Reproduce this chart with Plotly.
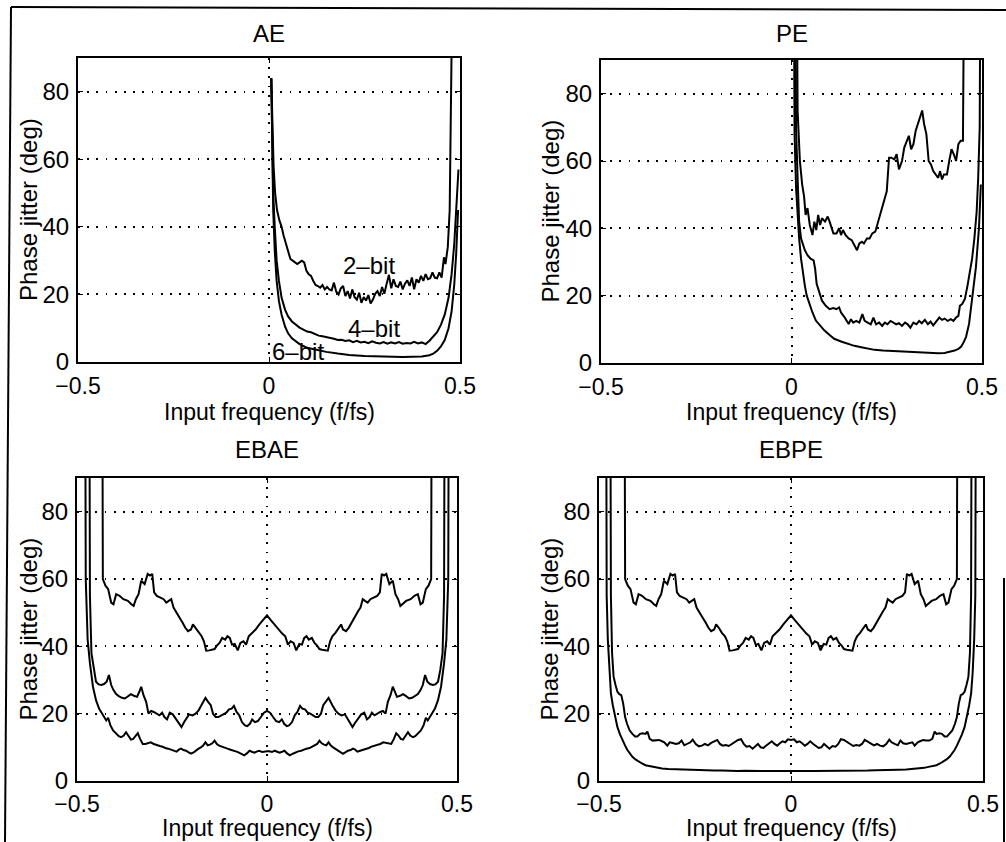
import plotly.graph_objects as go

W, H = 1006, 842
FONT = "Liberation Sans, Arial, Helvetica, sans-serif"

# ---------------- AE (positive frequencies only) ----------------
AE_2BIT_X = [0.006, 0.009, 0.012, 0.016, 0.021, 0.027, 0.033, 0.038, 0.044, 0.050,
             0.056, 0.062, 0.068, 0.074, 0.080, 0.086, 0.092, 0.098, 0.104, 0.110,
             0.116, 0.122, 0.128, 0.134, 0.140, 0.146, 0.152, 0.158, 0.164, 0.170,
             0.176, 0.182, 0.188, 0.194, 0.200, 0.206, 0.212, 0.218, 0.224, 0.230,
             0.236, 0.242, 0.248, 0.254, 0.260, 0.266, 0.272, 0.278, 0.284, 0.290,
             0.296, 0.302, 0.308, 0.314, 0.320, 0.326, 0.332, 0.338, 0.344, 0.350,
             0.356, 0.362, 0.368, 0.374, 0.380, 0.386, 0.392, 0.398, 0.404, 0.410,
             0.416, 0.422, 0.428, 0.434, 0.440, 0.446, 0.452, 0.458, 0.462, 0.468,
             0.473, 0.477, 0.481, 0.484]
AE_2BIT_Y = [84, 68, 58, 50, 45, 42, 40, 37.5, 35, 32.5,
             30.5, 30, 29.5, 29, 29.5, 30, 29.5, 27, 26, 25.5,
             24, 22.8, 22.5, 22, 22.8, 21.5, 22.2, 21.5, 21.2, 23.5,
             20.8, 20, 21.8, 22.5, 19.5, 21, 18.8, 21.5, 19.2, 18.5,
             20.5, 17.5, 19.2, 18.2, 19.8, 17.3, 18.5, 20.2, 21, 19.5,
             22.2, 20.2, 23.2, 25.8, 21.8, 24.5, 22.5, 22.2, 23.8, 21.5,
             23.2, 24.2, 22.5, 25, 21.5, 24.5, 23.5, 25.5, 24, 26,
             24.5, 24.8, 26.5, 25, 24.8, 26.5, 25, 31, 29, 34,
             45, 62, 80, 150]

AE_4BIT_X = [0.006, 0.008, 0.011, 0.015, 0.020, 0.026, 0.033, 0.042, 0.050, 0.060,
             0.070, 0.080, 0.090, 0.100, 0.110, 0.120, 0.130, 0.140, 0.150, 0.160,
             0.170, 0.180, 0.190, 0.200, 0.210, 0.220, 0.230, 0.240, 0.250, 0.260,
             0.270, 0.280, 0.290, 0.300, 0.310, 0.320, 0.330, 0.340, 0.350, 0.360,
             0.370, 0.380, 0.390, 0.400, 0.410, 0.420, 0.430, 0.440, 0.450, 0.460,
             0.470, 0.478, 0.485, 0.490, 0.496]
AE_4BIT_Y = [84, 65, 50, 40, 30, 24, 19, 15.5, 13.5, 12,
             11, 10.2, 9.6, 9, 8.8, 8.3, 7.8, 7.6, 7.4, 7.0,
             6.9, 6.5, 6.6, 6.2, 6.4, 5.9, 6.3, 5.8, 6.0, 5.6,
             6.1, 5.7, 5.5, 5.9, 5.4, 5.8, 5.5, 5.9, 5.4, 5.6,
             5.5, 6.0, 5.5, 5.8, 5.3, 6.3, 7.5, 8.8, 11, 14,
             19, 26, 35, 45, 57]

AE_6BIT_X = [0.006, 0.008, 0.011, 0.015, 0.020, 0.026, 0.033, 0.042, 0.050, 0.060,
             0.070, 0.080, 0.100, 0.125, 0.150, 0.180, 0.210, 0.250, 0.300, 0.350,
             0.400, 0.420, 0.430, 0.440, 0.450, 0.460, 0.470, 0.478, 0.485, 0.490,
             0.495]
AE_6BIT_Y = [84, 62, 45, 33, 24, 18, 14, 10.5, 8.5, 7,
             6, 5.3, 4.2, 3.5, 3, 2.5, 2.1, 1.8, 1.6, 1.5,
             1.6, 2, 2.5, 3.3, 4.6, 6.5, 10, 15, 23, 32,
             45]

# ---------------- PE (positive frequencies only) ----------------
PE_2BIT_X = [0.012, 0.016, 0.022, 0.028, 0.033, 0.037, 0.042, 0.048, 0.055, 0.060,
             0.065, 0.070, 0.075, 0.080, 0.088, 0.095, 0.100, 0.105, 0.110, 0.118,
             0.125, 0.130, 0.135, 0.142, 0.150, 0.158, 0.165, 0.172, 0.178, 0.185,
             0.190, 0.198, 0.205, 0.212, 0.220, 0.228, 0.235, 0.242, 0.250, 0.256,
             0.262, 0.270, 0.276, 0.282, 0.290, 0.296, 0.302, 0.308, 0.314, 0.320,
             0.326, 0.332, 0.338, 0.343, 0.348, 0.354, 0.360, 0.366, 0.372, 0.378,
             0.385, 0.390, 0.395, 0.400, 0.408, 0.414, 0.420, 0.426, 0.432, 0.438,
             0.444, 0.450, 0.455]
PE_2BIT_Y = [150, 75, 60, 53, 49.5, 44, 46, 41, 38, 42,
             39.5, 44, 41, 43, 42, 43.5, 42, 40, 38.5, 38.5,
             40, 38, 39.5, 38, 37, 36.5, 35, 33.5, 35.5, 36,
             35.5, 37, 37, 38.5, 39, 42, 45, 48, 51, 61,
             61, 60.5, 62, 57.5, 60, 64, 66, 67.5, 63.5, 65,
             69, 71, 73, 75, 71, 68, 60, 59, 57, 56,
             55, 57, 54.5, 56, 56, 60, 63.5, 62, 60, 65,
             66, 66, 150]

PE_4BIT_X = [0.008, 0.012, 0.016, 0.020, 0.025, 0.030, 0.035, 0.042, 0.050, 0.058,
             0.062, 0.066, 0.072, 0.080, 0.090, 0.100, 0.110, 0.118, 0.125, 0.130,
             0.138, 0.145, 0.150, 0.156, 0.162, 0.170, 0.178, 0.186, 0.192, 0.200,
             0.208, 0.215, 0.222, 0.230, 0.238, 0.245, 0.252, 0.260, 0.268, 0.275,
             0.282, 0.290, 0.298, 0.305, 0.312, 0.320, 0.328, 0.335, 0.342, 0.350,
             0.358, 0.365, 0.372, 0.380, 0.388, 0.395, 0.402, 0.410, 0.418, 0.425,
             0.432, 0.438, 0.442, 0.448, 0.455, 0.462, 0.468, 0.474, 0.480, 0.486,
             0.490, 0.494, 0.497]
PE_4BIT_Y = [150, 70, 55, 42, 37, 35, 33.5, 32, 31, 30.5,
             28, 23.5, 21, 18.5, 17, 16, 16.3, 16, 16.5, 15,
             13.8, 12.5, 11.6, 13, 12, 12.5, 12, 14.5, 12.5, 12,
             11.5, 13.5, 11.5, 12, 11, 12, 11.5, 12.5, 12, 11.5,
             11.8, 11, 12, 11.5, 10.5, 12, 11.5, 12.5, 11.8, 12.8,
             11.5, 12.3, 11.2, 12.5, 13.5, 12.8, 13.2, 12.5, 13, 12.5,
             13.5, 14, 17, 17.5, 19, 23, 27, 31, 37, 45,
             55, 70, 150]

PE_6BIT_X = [0.005, 0.008, 0.012, 0.016, 0.020, 0.025, 0.030, 0.035, 0.040, 0.047,
             0.055, 0.064, 0.075, 0.086, 0.100, 0.112, 0.130, 0.148, 0.165, 0.183,
             0.200, 0.218, 0.240, 0.270, 0.300, 0.332, 0.350, 0.367, 0.385, 0.402,
             0.415, 0.428, 0.438, 0.445, 0.452, 0.458, 0.466, 0.475, 0.484, 0.492,
             0.497]
PE_6BIT_Y = [150, 68, 52, 43, 37, 31, 26.5, 23, 20, 17.5,
             15, 12.6, 11, 9.7, 8.3, 7.2, 6.4, 5.7, 5.1, 4.7,
             4.3, 3.9, 3.7, 3.5, 3.3, 3.2, 3.0, 2.8, 2.9, 3.0,
             3.3, 3.7, 4.2, 4.8, 6.2, 7.7, 11.6, 19.5, 28.4, 40,
             53]

# ------- EBAE / EBPE: negative half, the sweep is even in frequency -------
EB_2BIT_X = [-0.434, -0.432, -0.425, -0.418, -0.410, -0.404, -0.397, -0.388, -0.378, -0.366,
             -0.357, -0.351, -0.345, -0.338, -0.331, -0.322, -0.314, -0.308, -0.302, -0.297,
             -0.290, -0.280, -0.272, -0.265, -0.258, -0.252, -0.246, -0.240, -0.230, -0.222,
             -0.215, -0.208, -0.200, -0.195, -0.188, -0.180, -0.172, -0.166, -0.160, -0.152,
             -0.145, -0.138, -0.132, -0.125, -0.118, -0.110, -0.104, -0.098, -0.092, -0.085,
             -0.077, -0.070, -0.062, -0.055, -0.048, -0.040, -0.030, -0.020, -0.010, 0.0]
EB_2BIT_Y = [150, 60, 58, 57, 53, 52.5, 55.5, 55, 54, 53.5,
             52.5, 52, 54, 55.5, 59.5, 58.5, 61.5, 61, 61.5, 56,
             55, 54.5, 54, 53, 53.5, 54, 51.5, 50.5, 48.5, 47,
             45.5, 44.5, 45, 46.5, 45.5, 44, 43, 41.5, 38.7, 38.8,
             39, 39.2, 40.2, 41, 42.5, 42, 43, 42.5, 40.5, 40.7,
             38.8, 41, 41.5, 40.5, 43, 43.8, 45, 46.5, 47.8, 49.2]

EBAE_4BIT_X = [-0.468, -0.466, -0.462, -0.456, -0.450, -0.443, -0.436, -0.429, -0.422, -0.416,
               -0.410, -0.404, -0.397, -0.390, -0.382, -0.374, -0.366, -0.358, -0.350, -0.342,
               -0.336, -0.331, -0.325, -0.318, -0.312, -0.305, -0.298, -0.290, -0.283, -0.276,
               -0.270, -0.263, -0.256, -0.248, -0.240, -0.232, -0.225, -0.218, -0.212, -0.205,
               -0.196, -0.188, -0.180, -0.172, -0.162, -0.155, -0.148, -0.142, -0.135, -0.128,
               -0.120, -0.114, -0.107, -0.100, -0.093, -0.087, -0.080, -0.073, -0.066, -0.058,
               -0.052, -0.045, -0.039, -0.032, -0.024, -0.016, -0.008, 0.0]
EBAE_4BIT_Y = [150, 55, 38, 33, 29.5, 28.7, 28.5, 28.8, 29.5, 31.5,
               28.5, 27, 25.8, 25.2, 24.7, 24.5, 25.2, 25.8, 25.3, 25,
               26.5, 28, 25.5, 23.5, 20, 20.8, 20.5, 20, 19.5, 20.3,
               19, 18.3, 20.3, 19.8, 18.5, 17.3, 16, 17.5, 18.5, 19.8,
               19.5, 20, 21, 22.5, 24.7, 23.5, 22.5, 20, 19, 19,
               19.5, 20, 20.3, 21.3, 21.5, 22.3, 20.5, 19.5, 17.5, 16.5,
               16.3, 17, 18.3, 17.5, 17.8, 19, 20.3, 20.8]

EBAE_6BIT_X = [-0.479, -0.477, -0.472, -0.466, -0.458, -0.450, -0.442, -0.436, -0.430, -0.423,
               -0.418, -0.412, -0.405, -0.397, -0.390, -0.384, -0.377, -0.371, -0.365, -0.358,
               -0.352, -0.346, -0.340, -0.334, -0.327, -0.320, -0.313, -0.306, -0.298, -0.290,
               -0.282, -0.275, -0.268, -0.260, -0.252, -0.245, -0.238, -0.232, -0.226, -0.220,
               -0.213, -0.206, -0.200, -0.193, -0.186, -0.180, -0.174, -0.168, -0.162, -0.156,
               -0.150, -0.144, -0.138, -0.132, -0.126, -0.120, -0.112, -0.104, -0.096, -0.090,
               -0.082, -0.075, -0.068, -0.060, -0.053, -0.046, -0.040, -0.033, -0.026, -0.020,
               -0.013, -0.006, 0.0]
EBAE_6BIT_Y = [150, 60, 42, 35, 28, 24, 21.5, 20.5, 19.2, 18,
               18.8, 16.5, 15, 14, 13.3, 13, 13.5, 14.5, 13.3, 12.3,
               12.5, 13.5, 14.2, 12.5, 11, 11, 11.3, 11.5, 11, 10.6,
               10.4, 10.2, 9.8, 9.6, 9.2, 9, 8.7, 9.3, 9.6, 9.2,
               9, 8.5, 8.1, 8.5, 9.2, 9.6, 10, 10.5, 11.5, 10.6,
               10.8, 11.2, 12, 11, 10.5, 10.2, 9.8, 9.6, 9.3, 9,
               8.8, 8.5, 8.1, 7.6, 8.2, 9, 8.7, 8.4, 8.8, 9,
               8.6, 8.8, 8.8]

EBPE_4BIT_X = [-0.471, -0.469, -0.466, -0.462, -0.457, -0.452, -0.447, -0.442, -0.437, -0.432,
               -0.427, -0.420, -0.413, -0.406, -0.400, -0.393, -0.386, -0.379, -0.374, -0.368,
               -0.360, -0.352, -0.344, -0.336, -0.330, -0.322, -0.316, -0.308, -0.300, -0.292,
               -0.285, -0.278, -0.270, -0.262, -0.256, -0.248, -0.240, -0.232, -0.224, -0.216,
               -0.208, -0.200, -0.192, -0.185, -0.178, -0.170, -0.162, -0.154, -0.146, -0.138,
               -0.130, -0.123, -0.116, -0.108, -0.100, -0.093, -0.086, -0.079, -0.072, -0.065,
               -0.058, -0.050, -0.043, -0.036, -0.029, -0.022, -0.015, -0.008, 0.0]
EBPE_4BIT_Y = [150, 55, 38, 31, 28.5, 26.5, 25.8, 25.5, 23, 19,
               17, 15, 14, 13.2, 13.2, 14, 14.2, 14, 14.7, 12.5,
               12, 12, 12.2, 11.8, 11.5, 10.5, 11.5, 11.3, 11, 11.2,
               12, 10.6, 11, 11.5, 12.3, 11, 10.3, 10.5, 11, 10.6,
               11.3, 11.7, 12.2, 11, 10.5, 10.7, 10.4, 11, 11.5, 12.2,
               12.4, 11, 10.2, 10.4, 9.6, 10.3, 11, 10, 9.8, 10.5,
               11, 11.8, 11, 10.5, 11.2, 11.8, 11.5, 12.4, 12.2]

EBPE_6BIT_X = [-0.482, -0.480, -0.477, -0.473, -0.469, -0.464, -0.460, -0.452, -0.445, -0.439,
               -0.432, -0.426, -0.420, -0.413, -0.405, -0.396, -0.388, -0.379, -0.368, -0.358,
               -0.347, -0.336, -0.320, -0.300, -0.280, -0.260, -0.240, -0.220, -0.200, -0.180,
               -0.160, -0.140, -0.120, -0.100, -0.080, -0.060, -0.040, -0.020, 0.0]
EBPE_6BIT_Y = [150, 55, 42, 32, 26, 22.5, 20, 16, 13.8, 12.1,
               10.5, 9.2, 8.2, 7.2, 6.4, 5.7, 5.2, 4.7, 4.4, 4.2,
               3.9, 3.7, 3.55, 3.45, 3.35, 3.3, 3.2, 3.2, 3.1, 3.1,
               3.0, 3.0, 3.05, 2.95, 3.0, 3.0, 2.95, 3.0, 3.0]

X_TICKS = [-0.5, 0, 0.5]
X_TICK_TEXT = ["\u22120.5", "0", "0.5"]
Y_TICKS = [0, 20, 40, 60, 80]
Y_TICK_TEXT = ["0", "20", "40", "60", "80"]
TITLES = ["AE", "PE", "EBAE", "EBPE"]
X_LABEL = "Input frequency (f/fs)"
Y_LABEL = "Phase jitter (deg)"
BIT_LABELS = ["2\u2013bit", "4\u2013bit", "6\u2013bit"]
BIT_LABEL_POS = [(0.19, 28.6), (0.205, 10.0), (0.005, 3.2)]


def both_sides(xs, ys):
    """Extend a negative-frequency half to the full band (the curves are even in f)."""
    full_x = list(xs) + [-x for x in reversed(xs[:-1])]
    full_y = list(ys) + list(reversed(ys[:-1]))
    return full_x, full_y


ebae = [both_sides(EB_2BIT_X, EB_2BIT_Y),
        both_sides(EBAE_4BIT_X, EBAE_4BIT_Y),
        both_sides(EBAE_6BIT_X, EBAE_6BIT_Y)]
ebpe = [both_sides(EB_2BIT_X, EB_2BIT_Y),
        both_sides(EBPE_4BIT_X, EBPE_4BIT_Y),
        both_sides(EBPE_6BIT_X, EBPE_6BIT_Y)]

# panel boxes in page pixels: (left, right, top, bottom)
panels = [
    dict(box=(78, 460, 58, 362), curves=[(AE_2BIT_X, AE_2BIT_Y), (AE_4BIT_X, AE_4BIT_Y),
                                         (AE_6BIT_X, AE_6BIT_Y)],
         title_y=33, xlab_y=412, ylab_x=29, standoff=2),
    dict(box=(601, 982, 60, 363), curves=[(PE_2BIT_X, PE_2BIT_Y), (PE_4BIT_X, PE_4BIT_Y),
                                          (PE_6BIT_X, PE_6BIT_Y)],
         title_y=33, xlab_y=412, ylab_x=550, standoff=2),
    dict(box=(77, 457, 478, 781), curves=ebae, title_y=449, xlab_y=828, ylab_x=28,
         standoff=1),
    dict(box=(599, 983, 478, 781), curves=ebpe, title_y=449, xlab_y=828, ylab_x=549,
         standoff=1),
]


def fx(p):
    return p / W


def fy(p):
    return 1 - p / H


fig = go.Figure()
annotations = []
layout_axes = {}

for i, (panel, title) in enumerate(zip(panels, TITLES), start=1):
    left, right, top, bottom = panel["box"]
    xa = "x" if i == 1 else f"x{i}"
    ya = "y" if i == 1 else f"y{i}"
    for cx, cy in panel["curves"]:
        fig.add_trace(go.Scatter(x=cx, y=cy, mode="lines", xaxis=xa, yaxis=ya,
                                 line=dict(color="black", width=2),
                                 showlegend=False, hoverinfo="skip"))
    common = dict(showline=True, linecolor="black", linewidth=2, mirror="ticks",
                  ticks="inside", ticklen=5, tickwidth=1.2, tickcolor="black",
                  showgrid=True, gridcolor="black", gridwidth=1.8,
                  griddash="1.8px,7.4px", zeroline=False,
                  automargin=False, fixedrange=True)
    layout_axes["xaxis" if i == 1 else f"xaxis{i}"] = dict(
        common, domain=[fx(left), fx(right)], anchor=ya, range=[-0.5, 0.5],
        tickvals=X_TICKS, ticktext=X_TICK_TEXT, ticklabelstandoff=panel["standoff"],
        tickfont=dict(family=FONT, size=23, color="black"))
    layout_axes["yaxis" if i == 1 else f"yaxis{i}"] = dict(
        common, domain=[fy(bottom), fy(top)], anchor=xa, range=[0, 90],
        tickvals=Y_TICKS, ticktext=Y_TICK_TEXT, ticklabelstandoff=2,
        tickfont=dict(family=FONT, size=24, color="black"))

    cx_mid = (left + right) / 2
    annotations.append(dict(text=title, x=fx(cx_mid), y=fy(panel["title_y"]),
                            xref="paper", yref="paper", showarrow=False,
                            xanchor="center", yanchor="middle",
                            font=dict(family=FONT, size=24, color="black")))
    annotations.append(dict(text=X_LABEL, x=fx(cx_mid), y=fy(panel["xlab_y"]),
                            xref="paper", yref="paper", showarrow=False,
                            xanchor="center", yanchor="middle", borderpad=0,
                            font=dict(family=FONT, size=23, color="black")))
    annotations.append(dict(text=Y_LABEL, x=fx(panel["ylab_x"]),
                            y=fy((top + bottom) / 2), textangle=-90,
                            xref="paper", yref="paper", showarrow=False,
                            xanchor="center", yanchor="middle",
                            font=dict(family=FONT, size=24, color="black")))

# curve labels on the AE panel
for label, (lx, ly) in zip(BIT_LABELS, BIT_LABEL_POS):
    annotations.append(dict(text=label, x=lx, y=ly, xref="x", yref="y",
                            showarrow=False, xanchor="left", yanchor="middle",
                            borderpad=0,
                            font=dict(family=FONT, size=24, color="black")))

# page frame lines
frame = dict(type="line", xref="paper", yref="paper",
             line=dict(color="black", width=2))
shapes = [
    dict(frame, x0=fx(11), y0=fy(7), x1=fx(5), y1=fy(842)),
    dict(frame, x0=fx(11), y0=fy(7), x1=fx(1006), y1=fy(10)),
    dict(frame, x0=fx(1004), y0=fy(578), x1=fx(1004), y1=fy(842)),
]

fig.update_layout(width=W, height=H,
                  margin=dict(l=0, r=0, t=0, b=0, pad=0, autoexpand=False),
                  paper_bgcolor="white", plot_bgcolor="white",
                  font=dict(family=FONT, size=24, color="black"),
                  annotations=annotations, shapes=shapes, **layout_axes)

fig.write_html("out.html", config={"displayModeBar": False})
